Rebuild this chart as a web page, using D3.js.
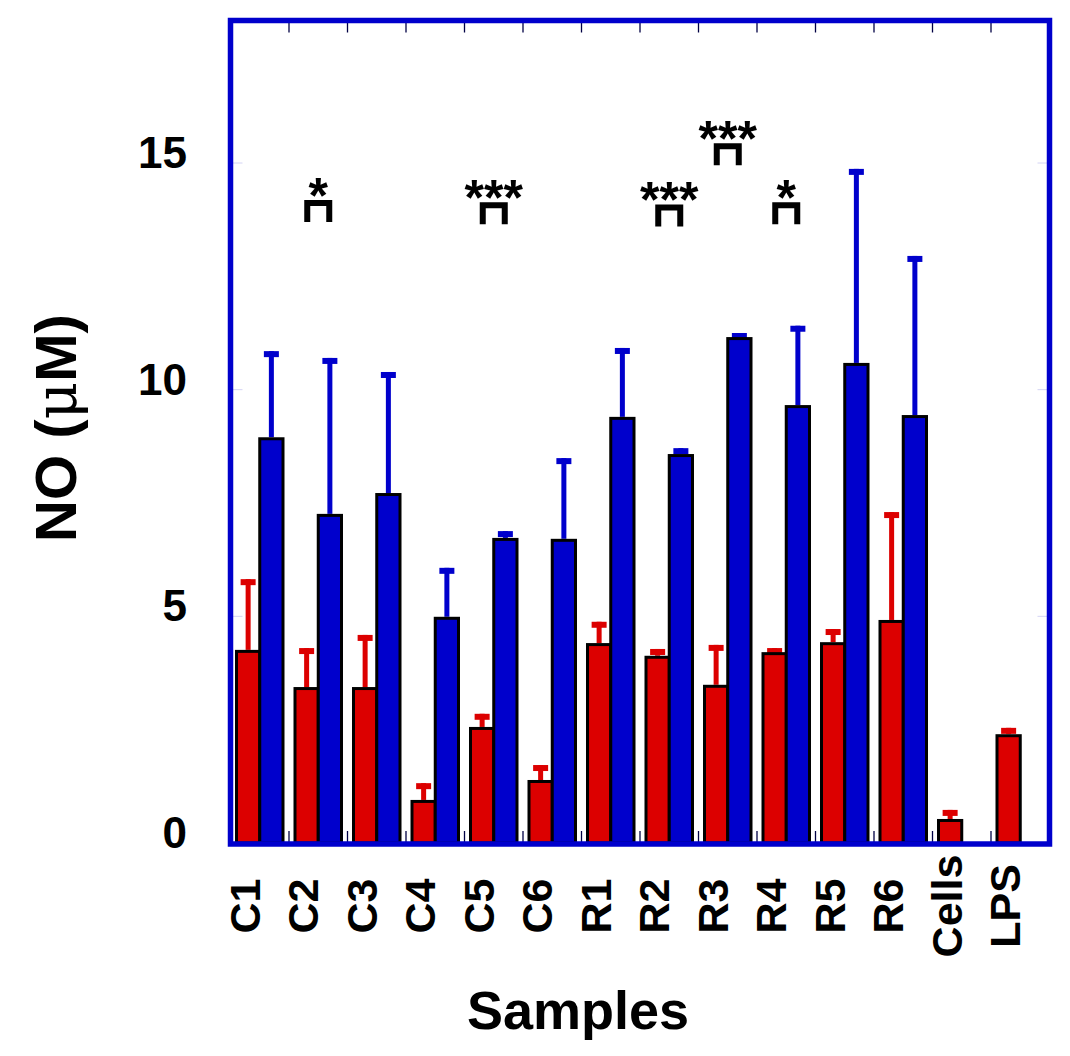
<!DOCTYPE html>
<html>
<head>
<meta charset="utf-8">
<script src="https://cdn.jsdelivr.net/npm/d3@7"></script>
<style>
  html, body { margin: 0; padding: 0; background: #fff; }
  svg { display: block; }
  text { font-family: "Liberation Sans", Arial, Helvetica, sans-serif; font-weight: bold; fill: #000; }
</style>
</head>
<body>
<svg id="chart" width="1070" height="1056"></svg>
<script>
// ---- data ----
const categories = ["C1","C2","C3","C4","C5","C6","R1","R2","R3","R4","R5","R6","Cells","LPS"];
const redMean  = [4.26, 3.44, 3.44, 0.95, 2.56, 1.39, 4.41, 4.13, 3.49, 4.21, 4.43, 4.92, 0.53, 2.40];
const redErr   = [1.56, 0.86, 1.15, 0.37, 0.29, 0.33, 0.47, 0.15, 0.88, 0.09, 0.29, 2.38, 0.20, 0.14];
const blueMean = [8.95, 7.26, 7.72, 4.99, 6.73, 6.71, 9.40, 8.58, 11.16, 9.66, 10.59, 9.44, null, null];
const blueErr  = [1.90, 3.44, 2.67, 1.08, 0.15, 1.78, 1.52, 0.13, 0.09, 1.75, 4.28, 3.51, null, null];
const yTicks   = [0, 5, 10, 15];
const sigCats   = ["C2", "C5", "R2", "R3", "R4"];
const sigLabels = ["*", "***", "***", "***", "*"];
const sigLevels = [13.70, 13.65, 13.60, 14.95, 13.65];
const yTitle = "NO (";
const yUnit = "\u03BCM";
const xTitle = "Samples";

// ---- layout ----
const svg = d3.select("#chart");
const plot = { left: 230.5, right: 1049.5, top: 20.5, bottom: 843 };
const RED = "#dc0000", BLUE = "#0000cc";

const x = d3.scaleBand().domain(categories).range([plot.left, plot.right]).padding(0);
const sub = d3.scaleBand().domain(["red", "blue"]).range([6, 52.5]).padding(0);
const y = d3.scaleLinear().domain([0, 15]).range([plot.bottom, 163]);

// build rows
const rows = [];
categories.forEach((c, i) => {
  rows.push({ cat: c, ser: "red", v: redMean[i], e: redErr[i], col: RED });
  if (blueMean[i] != null) rows.push({ cat: c, ser: "blue", v: blueMean[i], e: blueErr[i], col: BLUE });
});

// y ticks (faint) inside left & right
const yt = svg.append("g");
yTicks.forEach(t => {
  yt.append("line").attr("x1", plot.left).attr("x2", plot.left + 12)
    .attr("y1", y(t)).attr("y2", y(t)).attr("stroke", "#d4d4f4").attr("stroke-width", 1);
  yt.append("line").attr("x1", plot.right - 12).attr("x2", plot.right)
    .attr("y1", y(t)).attr("y2", y(t)).attr("stroke", "#d4d4f4").attr("stroke-width", 1);
});

// x ticks at category boundaries (top and bottom, inward)
const bounds = categories.slice(1).map(c => x(c));
const xt = svg.append("g");
bounds.forEach(b => {
  xt.append("line").attr("x1", b).attr("x2", b).attr("y1", plot.top).attr("y2", plot.top + 12)
    .attr("stroke", "#000044").attr("stroke-width", 1.3);
  xt.append("line").attr("x1", b).attr("x2", b).attr("y1", plot.bottom - 12).attr("y2", plot.bottom)
    .attr("stroke", "#000044").attr("stroke-width", 1.3);
});

// error bars (upper only)
const eg = svg.append("g");
rows.forEach(d => {
  const cx = x(d.cat) + sub(d.ser) + sub.bandwidth() / 2;
  const yTop = y(d.v + d.e);
  eg.append("rect").attr("x", cx - 2.5).attr("y", yTop).attr("width", 5)
    .attr("height", Math.max(0, y(d.v) - yTop)).attr("fill", d.col);
  eg.append("rect").attr("x", cx - 7.5).attr("y", yTop).attr("width", 15).attr("height", 6).attr("fill", d.col);
});

// bars
const bg = svg.append("g");
bg.selectAll("rect").data(rows).join("rect")
  .attr("x", d => x(d.cat) + sub(d.ser))
  .attr("y", d => y(d.v) + 1.5)
  .attr("width", sub.bandwidth())
  .attr("height", d => y(0) - y(d.v) - 1.5)
  .attr("fill", d => d.col)
  .attr("stroke", "#000")
  .attr("stroke-width", 3);

// frame
svg.append("rect").attr("x", plot.left).attr("y", plot.top)
  .attr("width", plot.right - plot.left).attr("height", plot.bottom + 1 - plot.top)
  .attr("fill", "none").attr("stroke", BLUE).attr("stroke-width", 5.5);

// y tick labels
svg.append("g").selectAll("text").data(yTicks).join("text")
  .attr("x", 187).attr("y", d => y(d) + 5)
  .attr("text-anchor", "end").attr("font-size", 44)
  .text(d => d);

// x labels (rotated, centred)
svg.append("g").selectAll("text").data(categories).join("text")
  .attr("transform", d => `translate(${x(d) + x.bandwidth() / 2},906) rotate(-90)`)
  .attr("text-anchor", "middle").attr("font-size", 43)
  .text(d => d);

// y title
const yT = svg.append("text")
  .attr("transform", "translate(76,428) rotate(-90)")
  .attr("text-anchor", "middle").attr("font-size", 58);
yT.append("tspan").text(yTitle);
yT.append("tspan").attr("font-weight", "normal").attr("font-family", "'DejaVu Serif', serif").text(yUnit.charAt(0));
yT.append("tspan").text(yUnit.slice(1) + ")");

// x title
svg.append("text").attr("x", 578).attr("y", 1029).attr("text-anchor", "middle")
  .attr("font-size", 54).text(xTitle);

// significance markers
const sg = svg.append("g");
sigCats.forEach((c, i) => {
  const cx = x(c) + x.bandwidth() / 2;
  const yb = y(sigLevels[i]);
  const w = 28, h = 22;
  sg.append("path")
    .attr("d", `M${cx - w / 2 + 3},${yb} L${cx - w / 2 + 3},${yb - h + 3} L${cx + w / 2 - 3},${yb - h + 3} L${cx + w / 2 - 3},${yb}`)
    .attr("fill", "none").attr("stroke", "#000").attr("stroke-width", 6);
  sg.append("text").attr("x", cx).attr("y", yb - h - 5 + 0.72 * 50 - 18)
    .attr("text-anchor", "middle").attr("font-size", 50).text(sigLabels[i]);
});
</script>
</body>
</html>
